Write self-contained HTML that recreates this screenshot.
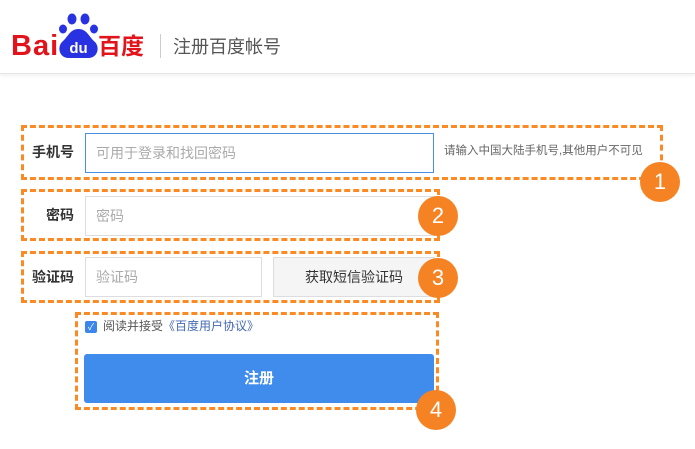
<!DOCTYPE html>
<html><head><meta charset="utf-8"><style>
*{margin:0;padding:0;box-sizing:border-box}
body{width:695px;height:449px;background:#fff;position:relative;overflow:hidden;font-family:"Liberation Sans","Noto Sans CJK SC",sans-serif}
.a{position:absolute}
.hdr{left:0;top:0;width:695px;height:74px;border-bottom:1px solid #e6e6e6;box-shadow:0 2px 3px #f2f2f2}
.box{border:3px dashed #fb8a24}
.circ{width:40px;height:40px;border-radius:50%;background:#f58323;color:#fff;font-size:22px;text-align:center;line-height:40px;font-family:"Liberation Sans",sans-serif}
.lbl{font-size:14px;line-height:20px;font-weight:bold;color:#333;text-align:right;width:60px;left:14px}
.inp{border:1px solid #ddd;font-size:14px;color:#aaa;padding-left:10px;background:#fff}
</style></head><body>
<div class="a hdr"></div>
<div class="a" style="left:11px;top:31px;font-size:29px;line-height:30px;font-weight:bold;color:#e1141b;letter-spacing:1px;font-family:'Liberation Sans',sans-serif">Bai</div>
<svg class="a" style="left:58px;top:13px" width="42" height="46">
<ellipse cx="5" cy="16" rx="4" ry="4.5" fill="#2932e1"/>
<ellipse cx="14" cy="6" rx="4.5" ry="5.5" fill="#2932e1"/>
<ellipse cx="27" cy="6" rx="4.5" ry="5.5" fill="#2932e1"/>
<ellipse cx="36" cy="16" rx="4" ry="4.5" fill="#2932e1"/>
<path d="M20.5 16 C12 16 10 24 4 29 C-1 34 1 45 11 45 L30 45 C40 45 42 34 37 29 C31 24 29 16 20.5 16Z" fill="#2932e1"/>
<text x="20.5" y="40" font-size="15" font-weight="bold" fill="#fff" text-anchor="middle" font-family="Liberation Sans">du</text>
</svg>
<div class="a" style="left:98px;top:33px;font-size:23px;line-height:26px;font-weight:bold;color:#e1141b">百度</div>
<div class="a" style="left:160px;top:34px;width:1px;height:24px;background:#ccc"></div>
<div class="a" style="left:173px;top:35px;font-size:18px;line-height:24px;color:#555">注册百度帐号</div>

<div class="a box" style="left:21px;top:125px;width:642px;height:55px"></div>
<div class="a lbl" style="top:142px">手机号</div>
<div class="a inp" style="left:85px;top:133px;width:349px;height:40px;line-height:38px;border-color:#4a90e2">可用于登录和找回密码</div>
<div class="a" style="left:444px;top:143px;font-size:11.5px;line-height:16px;color:#666">请输入中国大陆手机号,其他用户不可见</div>
<div class="a circ" style="left:640px;top:162px">1</div>

<div class="a box" style="left:21px;top:189px;width:419px;height:52px"></div>
<div class="a lbl" style="top:205px">密码</div>
<div class="a inp" style="left:85px;top:196px;width:352px;height:40px;line-height:38px">密码</div>
<div class="a circ" style="left:418px;top:196px">2</div>

<div class="a box" style="left:21px;top:251px;width:419px;height:52px"></div>
<div class="a lbl" style="top:267px">验证码</div>
<div class="a inp" style="left:85px;top:257px;width:177px;height:40px;line-height:38px">验证码</div>
<div class="a" style="left:273px;top:257px;width:162px;height:40px;line-height:38px;border:1px solid #ddd;background:#f5f5f5;font-size:14px;color:#333;text-align:center">获取短信验证码</div>
<div class="a circ" style="left:418px;top:258px">3</div>

<div class="a box" style="left:75px;top:312px;width:364px;height:98px"></div>
<div class="a" style="left:85px;top:321px;width:12px;height:12px;border-radius:2px;background:#3b86ea;color:#fff;font-size:9px;line-height:12px;text-align:center">✓</div>
<div class="a" style="left:103px;top:318px;font-size:12px;line-height:16px;color:#555">阅读并接受<span style="color:#4468b6">《百度用户协议》</span></div>
<div class="a" style="left:84px;top:354px;width:350px;height:49px;border-radius:3px;background:#3f8ced;color:#fff;font-size:15px;font-weight:bold;text-align:center;line-height:49px">注册</div>
<div class="a circ" style="left:416px;top:390px">4</div>
</body></html>
